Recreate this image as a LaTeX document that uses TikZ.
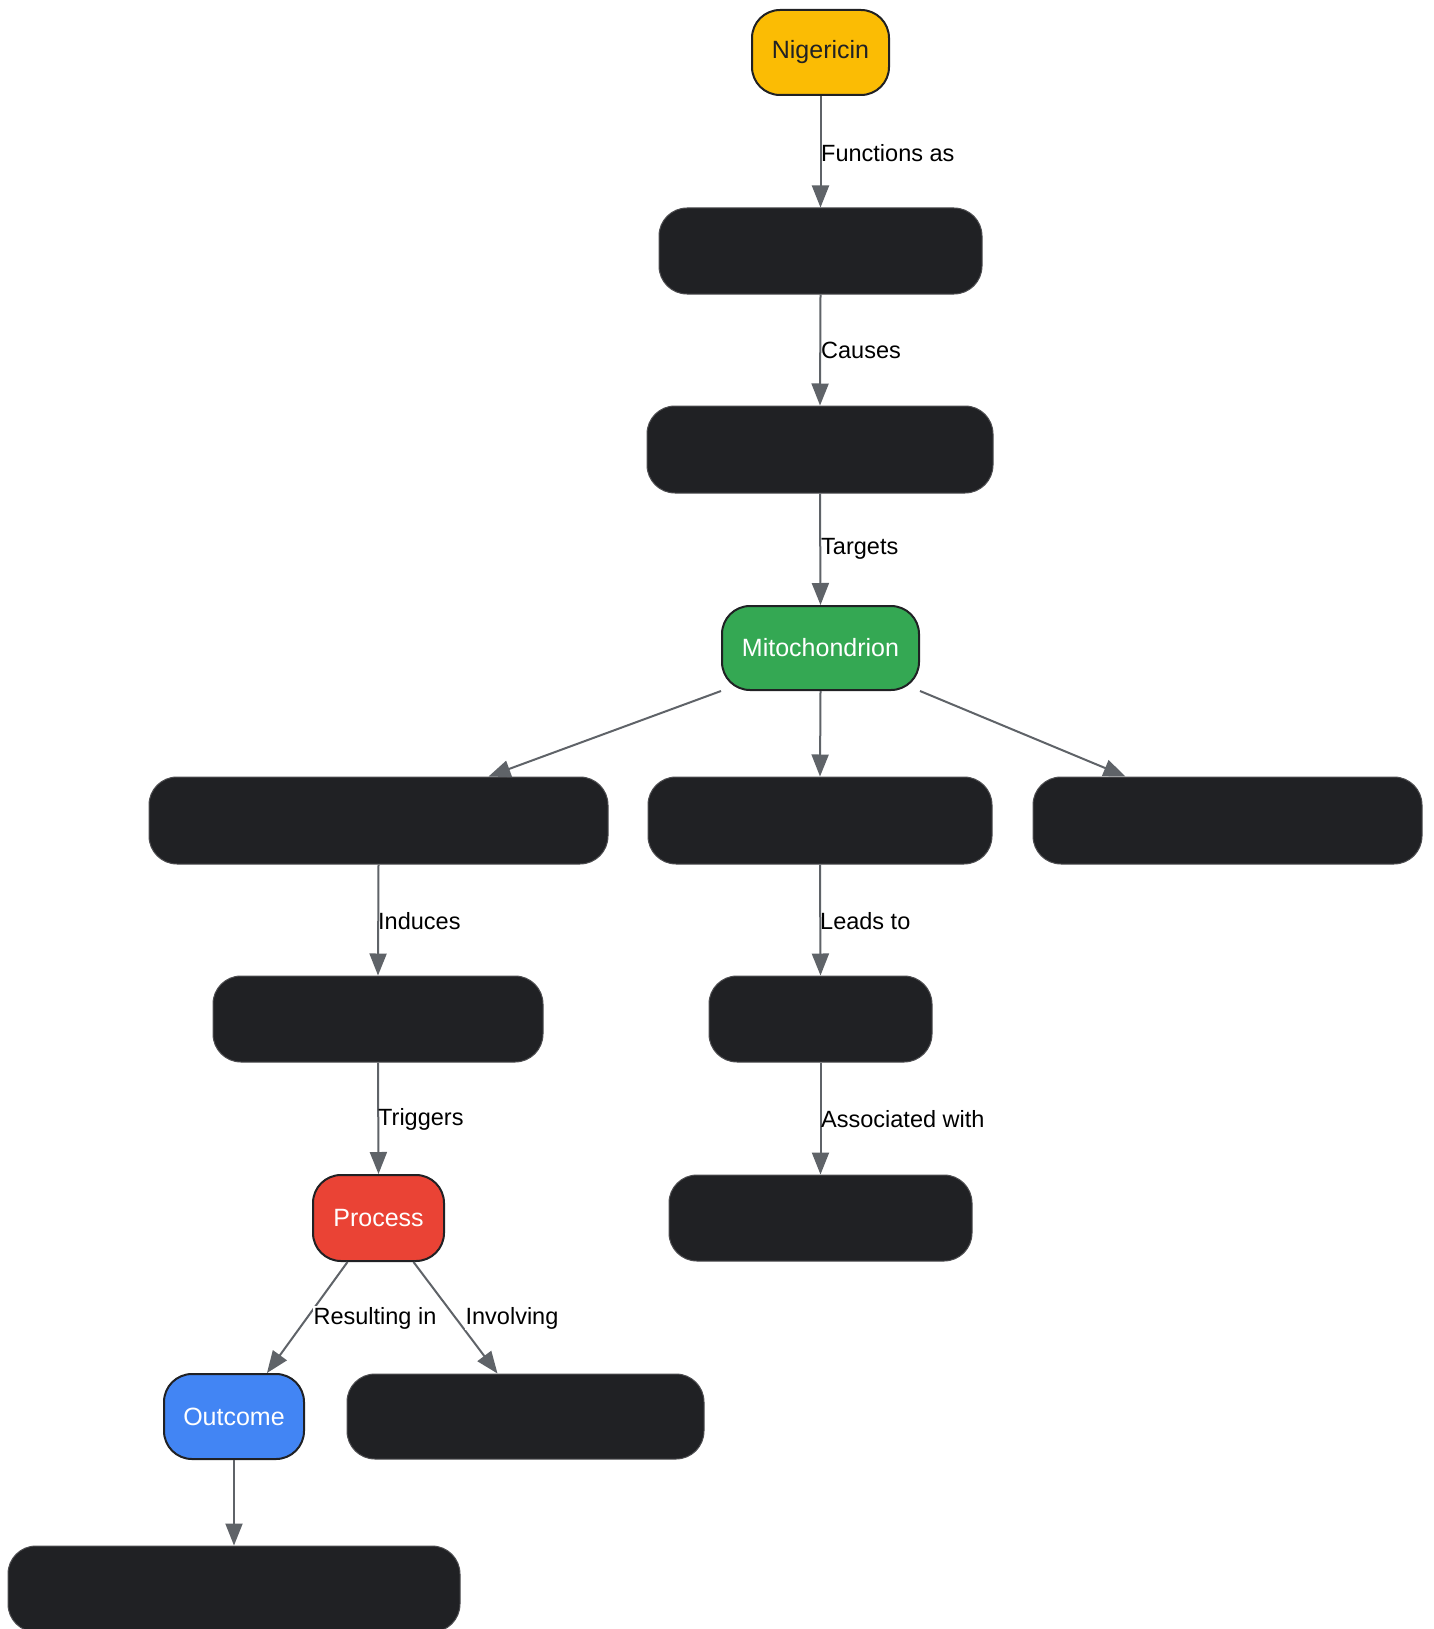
\documentclass[tikz,border=0pt]{standalone}
\usepackage{fontspec}
\setmainfont{Liberation Sans}
\usetikzlibrary{arrows.meta}
\definecolor{gyellow}{HTML}{FBBC04}
\definecolor{ggreen}{HTML}{34A853}
\definecolor{gred}{HTML}{EA4335}
\definecolor{gblue}{HTML}{4285F4}
\definecolor{gblack}{HTML}{202124}
\definecolor{gedge}{HTML}{5F6368}
\definecolor{gborder}{HTML}{202124}
\tikzset{
  base/.style={rounded corners=28pt, inner sep=0pt, font=\fontsize{25}{30}\selectfont},
  colbox/.style={base, draw=gborder, line width=2pt},
  darkbox/.style={base, fill=gblack, draw=gblack!80!white, line width=1pt},
  conn/.style={draw=gedge, line width=2pt, -{Triangle[length=22pt,width=17pt]}},
  elab/.style={font=\fontsize{23.5}{28}\selectfont, text=black, inner sep=0pt}
}
\begin{document}
\begin{tikzpicture}[x=1pt,y=-1pt]
\useasboundingbox[fill=white] (0,0) rectangle (1433,1629);
\begin{scope}
\clip (0,0) rectangle (1433,1629);
\node[colbox, fill=gyellow, text=gblack, minimum width=137pt, minimum height=85pt] (nig) at (820.5,52.5) {Nigericin};
\node[darkbox, minimum width=323pt, minimum height=86pt] (n2) at (820.5,251) {};
\node[darkbox, minimum width=346pt, minimum height=87pt] (n3) at (820,449.5) {};
\node[colbox, fill=ggreen, text=white, minimum width=197pt, minimum height=84pt] (mito) at (820.5,648) {Mitochondrion};
\node[darkbox, minimum width=459pt, minimum height=87pt] (a) at (378.5,820.5) {};
\node[darkbox, minimum width=344pt, minimum height=87pt] (b) at (820,820.5) {};
\node[darkbox, minimum width=389pt, minimum height=87pt] (c) at (1227.5,820.5) {};
\node[darkbox, minimum width=330pt, minimum height=86pt] (d) at (378,1019) {};
\node[darkbox, minimum width=223pt, minimum height=86pt] (e) at (820.5,1019) {};
\node[colbox, fill=gred, text=white, minimum width=131pt, minimum height=86pt] (proc) at (378.5,1218) {Process};
\node[darkbox, minimum width=303pt, minimum height=86pt] (f) at (820.5,1218) {};
\node[colbox, fill=gblue, text=white, minimum width=140pt, minimum height=85pt] (out) at (234,1416.5) {Outcome};
\node[darkbox, minimum width=357pt, minimum height=85pt] (g) at (525.5,1416.5) {};
\node[darkbox, minimum width=452pt, minimum height=86pt] (h) at (234,1589) {};

\draw[conn] (nig.south) -- (n2.north);
\draw[conn] (n2.south) -- (n3.north);
\draw[conn] (n3.south) -- (mito.north);
\draw[conn] (mito.south west) -- ([xshift=110pt]a.north);
\draw[conn] (mito.south) -- (b.north);
\draw[conn] (mito.south east) -- ([xshift=-102pt]c.north);
\draw[conn] (a.south) -- (d.north);
\draw[conn] (b.south) -- (e.north);
\draw[conn] (d.south) -- (proc.north);
\draw[conn] (e.south) -- (f.north);
\draw[conn] ([xshift=-31pt]proc.south) -- ([xshift=33pt]out.north);
\draw[conn] ([xshift=35pt]proc.south) -- ([xshift=-28pt]g.north);
\draw[conn] (out.south) -- (h.north);

\node[elab, anchor=west] (l1) at (821,153) {Functions as};
\node[elab, anchor=west] (l2) at (821,350) {Causes};
\node[elab, anchor=west] (l3) at (821,549) {Targets};
\node[elab, anchor=west] (l4) at (378,921) {Induces};
\node[elab, anchor=west] (l5) at (820,921) {Leads to};
\node[elab, anchor=west] (l6) at (378,1119) {Triggers};
\node[elab, anchor=west] (l7) at (821,1119) {Associated with};
\node[elab, fill=white, inner sep=1pt] (l8) at (375,1318) {Resulting in};
\node[elab, fill=white, inner sep=1pt] (l9) at (512,1318) {Involving};
\end{scope}
\end{tikzpicture}
\end{document}
